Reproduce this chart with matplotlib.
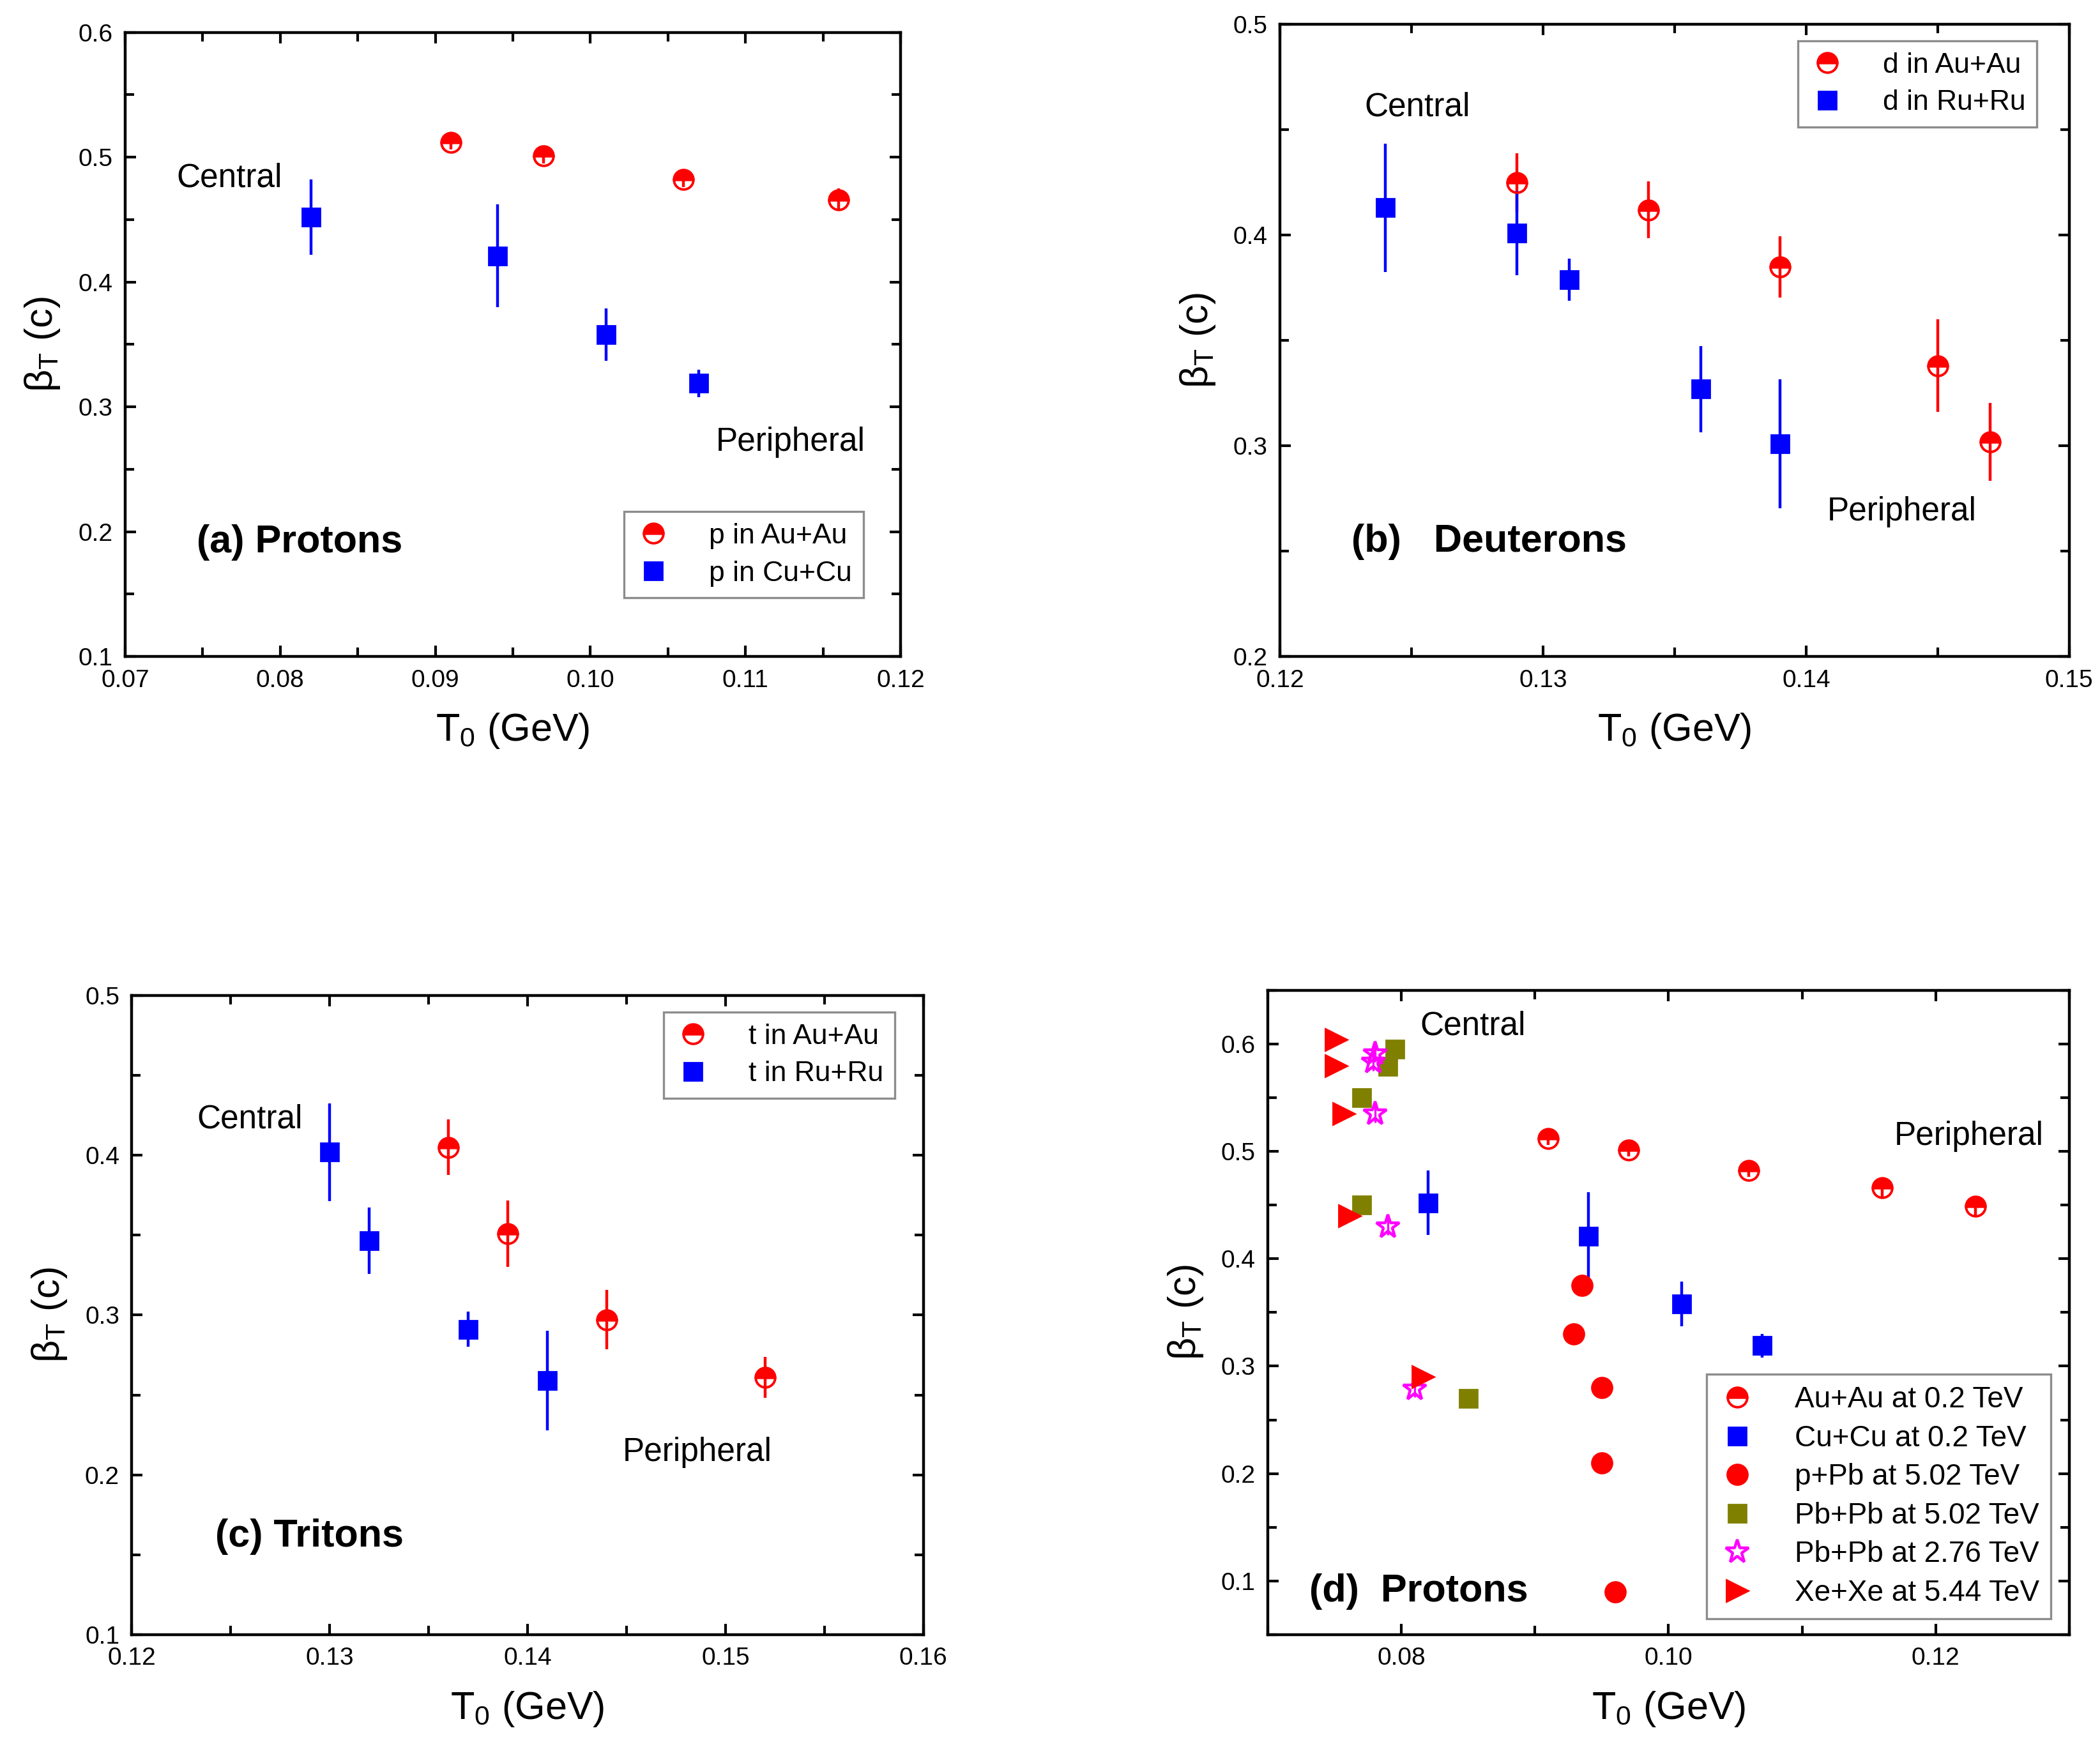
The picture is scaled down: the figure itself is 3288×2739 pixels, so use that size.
import matplotlib
matplotlib.use("Agg")
import matplotlib.pyplot as plt
from matplotlib.ticker import MultipleLocator, FixedLocator, FormatStrFormatter

plt.rcParams['font.family'] = ['Liberation Sans', 'DejaVu Sans']
plt.rcParams['mathtext.fontset'] = 'custom'
plt.rcParams['mathtext.rm'] = 'Liberation Sans'
plt.rcParams['mathtext.it'] = 'Liberation Sans'

# ---- data ----
# (a) protons
a_au_T = [0.091, 0.097, 0.106, 0.116]
a_au_b = [0.512, 0.501, 0.482, 0.466]
a_au_e = [0.006, 0.006, 0.006, 0.009]
a_cu_T = [0.082, 0.094, 0.101, 0.107]
a_cu_b = [0.452, 0.421, 0.358, 0.319]
a_cu_e = [0.030, 0.041, 0.021, 0.011]

# (b) deuterons
b_au_T = [0.129, 0.134, 0.139, 0.145, 0.147]
b_au_b = [0.425, 0.412, 0.385, 0.338, 0.302]
b_au_e = [0.014, 0.0135, 0.0146, 0.022, 0.0185]
b_ru_T = [0.124, 0.129, 0.131, 0.136, 0.139]
b_ru_b = [0.413, 0.401, 0.379, 0.327, 0.301]
b_ru_e = [0.0305, 0.020, 0.010, 0.0205, 0.0305]

# (c) tritons
c_au_T = [0.136, 0.139, 0.144, 0.152]
c_au_b = [0.405, 0.351, 0.297, 0.261]
c_au_e = [0.0174, 0.0208, 0.0186, 0.0127]
c_ru_T = [0.130, 0.132, 0.137, 0.141]
c_ru_b = [0.402, 0.3465, 0.291, 0.259]
c_ru_e = [0.0306, 0.0208, 0.011, 0.031]

# (d) protons, all systems
d_au_T = [0.091, 0.097, 0.106, 0.116, 0.123]
d_au_b = [0.512, 0.501, 0.482, 0.466, 0.449]
d_au_e = [0.006, 0.006, 0.006, 0.009, 0.009]
d_cu_T = a_cu_T
d_cu_b = a_cu_b
d_cu_e = a_cu_e
d_ppb_T = [0.0935, 0.0929, 0.095, 0.095, 0.096]
d_ppb_b = [0.375, 0.330, 0.280, 0.210, 0.090]
d_ppb_e = [0.005, 0.005, 0.005, 0.005, 0.005]
d_pb502_T = [0.0795, 0.0790, 0.0770, 0.0770, 0.0850]
d_pb502_b = [0.595, 0.579, 0.550, 0.450, 0.270]
d_pb502_e = [0.008, 0.008, 0.008, 0.008, 0.008]
d_pb276_T = [0.0780, 0.0779, 0.0780, 0.0790, 0.0810]
d_pb276_b = [0.591, 0.583, 0.535, 0.430, 0.279]
d_pb276_e = [0.008, 0.008, 0.008, 0.008, 0.008]
d_xe_T = [0.0751, 0.0751, 0.0757, 0.0761, 0.0816]
d_xe_b = [0.604, 0.580, 0.535, 0.440, 0.290]
d_xe_e = [0.005, 0.005, 0.005, 0.005, 0.005]

RED = '#ff0000'
BLUE = '#0000ff'
OLIVE = '#808000'
MAG = '#ff00ff'

fig = plt.figure(figsize=(16.44, 13.695), dpi=200)


def style_axes(ax, xlim, ylim, xmaj, xmin, ymaj, ymin, xfmt='%.2f'):
    ax.set_xlim(*xlim)
    ax.set_ylim(*ylim)
    ax.xaxis.set_major_locator(xmaj)
    ax.xaxis.set_minor_locator(xmin)
    ax.yaxis.set_major_locator(MultipleLocator(ymaj))
    ax.yaxis.set_minor_locator(MultipleLocator(ymin))
    ax.xaxis.set_major_formatter(FormatStrFormatter(xfmt))
    ax.yaxis.set_major_formatter(FormatStrFormatter('%.1f'))
    ax.tick_params(which='both', direction='in', top=True, right=True, width=1.5)
    ax.tick_params(which='major', length=6, labelsize=14, pad=7)
    ax.tick_params(which='minor', length=5)
    for sp in ax.spines.values():
        sp.set_linewidth(1.6)
    ax.set_xlabel(r'T$_0$ (GeV)', fontsize=22, labelpad=11)
    ax.set_ylabel(r'$\mathregular{\beta_T}$ (c)', fontsize=22, labelpad=9)


def half(ax, T, b, e, label):
    ax.errorbar(T, b, yerr=e, fmt='none', ecolor=RED, elinewidth=1.6, capsize=0, zorder=2)
    ax.plot(T, b, 'o', ms=11, color=RED, mec=RED, mew=1.4, fillstyle='top',
            markerfacecoloralt='none', label=label, zorder=3)


def points(ax, T, b, e, label, marker, color, ms, lw=1.6, **kw):
    ax.errorbar(T, b, yerr=e, fmt='none', ecolor=color, elinewidth=lw, capsize=0, zorder=2)
    ax.plot(T, b, marker, ms=ms, color=color, mec=color, label=label, zorder=3, **kw)


def legend(ax, x0, y0, fs=16, sp=0.4):
    leg = ax.legend(loc='lower left', bbox_to_anchor=(x0, y0), fontsize=fs,
                    frameon=True, fancybox=False, edgecolor='#707070',
                    handlelength=1.3, handletextpad=1.3, borderpad=0.4,
                    labelspacing=sp, borderaxespad=0, numpoints=1)
    leg.get_frame().set_linewidth(1.2)


# (a)
ax = fig.add_axes([0.0596, 0.6246, 0.3692, 0.3569])
half(ax, a_au_T, a_au_b, a_au_e, 'p in Au+Au')
points(ax, a_cu_T, a_cu_b, a_cu_e, 'p in Cu+Cu', 's', BLUE, 10)
style_axes(ax, (0.07, 0.12), (0.1, 0.6), MultipleLocator(0.01), MultipleLocator(0.005), 0.1, 0.05)
ax.text(0.0733, 0.4834, 'Central', fontsize=18.5, va='center')
ax.text(0.1081, 0.2718, 'Peripheral', fontsize=18.5, va='center')
ax.text(0.0746, 0.1912, '(a) Protons', fontsize=22, fontweight='bold', va='center')
legend(ax, 0.643, 0.094)

# (b)
ax = fig.add_axes([0.6096, 0.6246, 0.3757, 0.3614])
half(ax, b_au_T, b_au_b, b_au_e, 'd in Au+Au')
points(ax, b_ru_T, b_ru_b, b_ru_e, 'd in Ru+Ru', 's', BLUE, 10)
style_axes(ax, (0.12, 0.15), (0.2, 0.5), MultipleLocator(0.01), MultipleLocator(0.005), 0.1, 0.05)
ax.text(0.1232, 0.4607, 'Central', fontsize=18.5, va='center')
ax.text(0.1408, 0.2688, 'Peripheral', fontsize=18.5, va='center')
ax.text(0.1227, 0.2545, '(b)   Deuterons', fontsize=22, fontweight='bold', va='center')
legend(ax, 0.656, 0.8375)

# (c)
ax = fig.add_axes([0.0628, 0.0654, 0.3769, 0.3654])
half(ax, c_au_T, c_au_b, c_au_e, 't in Au+Au')
points(ax, c_ru_T, c_ru_b, c_ru_e, 't in Ru+Ru', 's', BLUE, 10)
style_axes(ax, (0.12, 0.16), (0.1, 0.5), MultipleLocator(0.01), MultipleLocator(0.005), 0.1, 0.05)
ax.text(0.1233, 0.4226, 'Central', fontsize=18.5, va='center')
ax.text(0.1448, 0.2142, 'Peripheral', fontsize=18.5, va='center')
ax.text(0.1242, 0.1612, '(c) Tritons', fontsize=22, fontweight='bold', va='center')
legend(ax, 0.6715, 0.839)

# (d)
ax = fig.add_axes([0.6038, 0.0654, 0.3815, 0.3684])
half(ax, d_au_T, d_au_b, d_au_e, 'Au+Au at 0.2 TeV')
points(ax, d_cu_T, d_cu_b, d_cu_e, 'Cu+Cu at 0.2 TeV', 's', BLUE, 10)
points(ax, d_ppb_T, d_ppb_b, d_ppb_e, 'p+Pb at 5.02 TeV', 'o', RED, 11.5, lw=1.4)
points(ax, d_pb502_T, d_pb502_b, d_pb502_e, 'Pb+Pb at 5.02 TeV', 's', OLIVE, 10, lw=1.4)
points(ax, d_pb276_T, d_pb276_b, d_pb276_e, 'Pb+Pb at 2.76 TeV', '*', MAG, 14, lw=1.2,
       mfc='none', mew=1.6)
points(ax, d_xe_T, d_xe_b, d_xe_e, 'Xe+Xe at 5.44 TeV', '>', RED, 12, lw=1.4)
style_axes(ax, (0.07, 0.13), (0.05, 0.65), MultipleLocator(0.02), MultipleLocator(0.01), 0.1, 0.05)
ax.xaxis.set_major_locator(FixedLocator([0.08, 0.10, 0.12]))
ax.text(0.0814, 0.6165, 'Central', fontsize=18.5, va='center')
ax.text(0.1169, 0.5143, 'Peripheral', fontsize=18.5, va='center')
ax.text(0.0731, 0.090, '(d)  Protons', fontsize=22, fontweight='bold', va='center')
legend(ax, 0.5475, 0.0244, fs=16.5, sp=0.36)

fig.savefig('out.png', dpi=200)
